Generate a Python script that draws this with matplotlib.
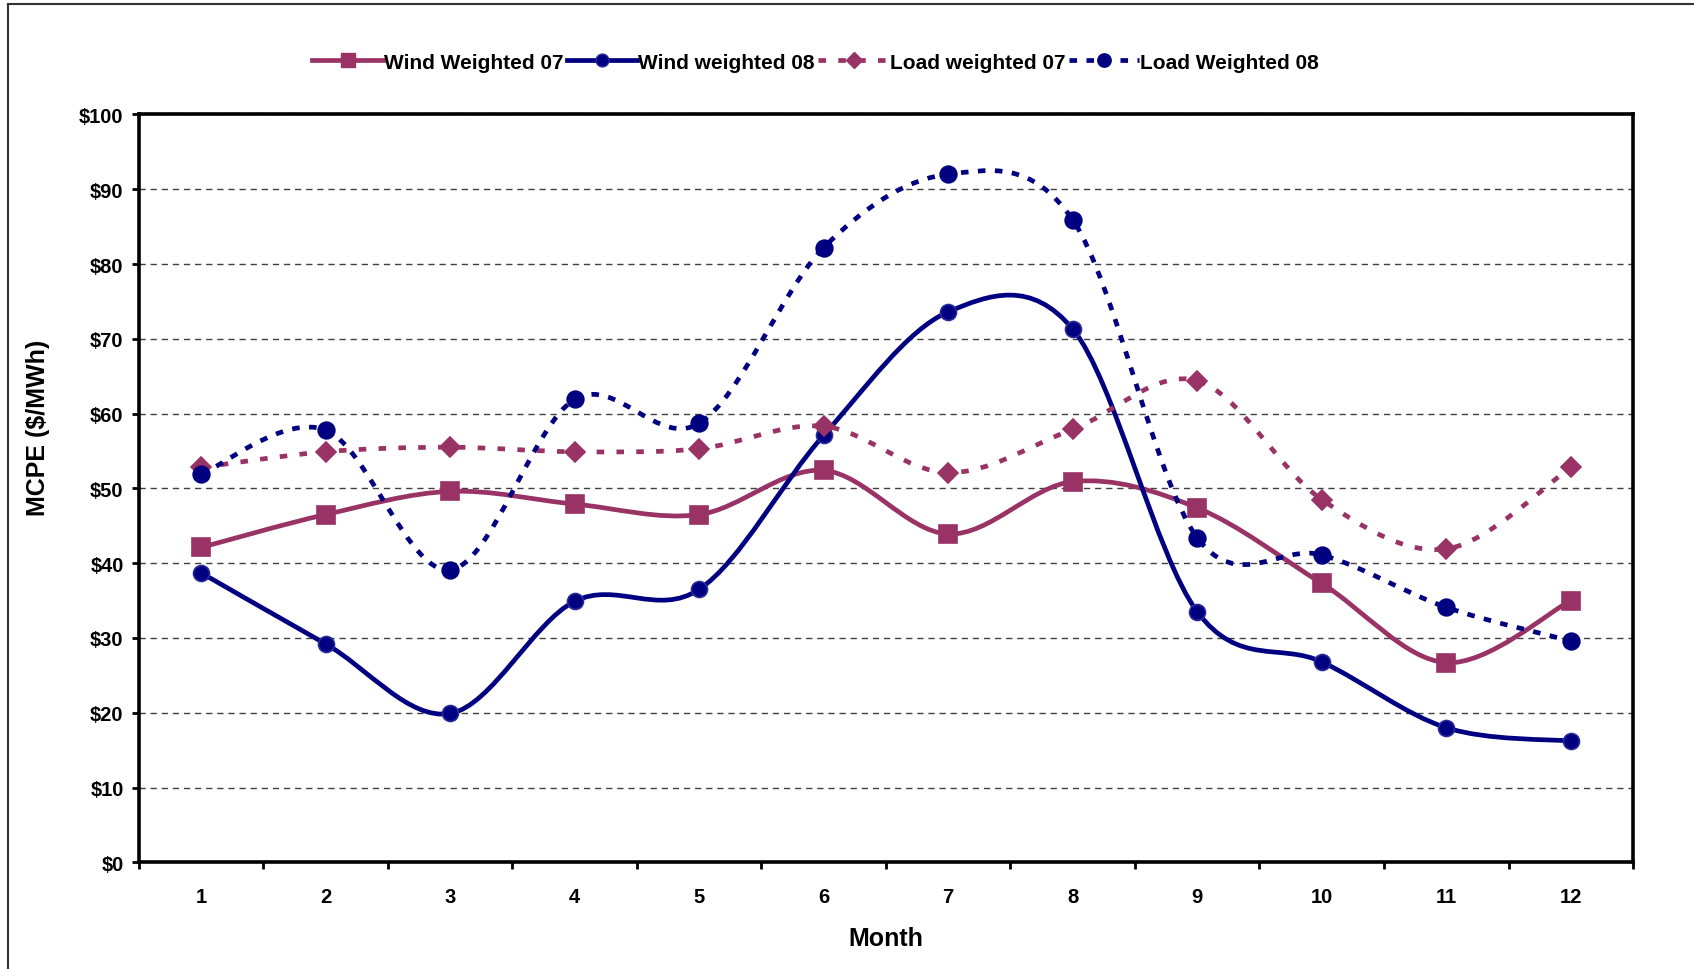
import matplotlib
matplotlib.use("Agg")
import matplotlib.pyplot as plt
import numpy as np
from matplotlib.path import Path
from matplotlib.patches import PathPatch
from matplotlib.lines import Line2D

months = [1, 2, 3, 4, 5, 6, 7, 8, 9, 10, 11, 12]
month_labels = ["1", "2", "3", "4", "5", "6", "7", "8", "9", "10", "11", "12"]
wind_weighted_07 = [42.1, 46.5, 49.6, 47.9, 46.5, 52.4, 43.9, 50.9, 47.4, 37.3, 26.7, 35.0]
wind_weighted_08 = [38.7, 29.2, 19.9, 34.9, 36.5, 57.1, 73.6, 71.3, 33.5, 26.8, 18.0, 16.2]
load_weighted_07 = [52.8, 54.9, 55.5, 54.9, 55.3, 58.3, 52.1, 57.9, 64.4, 48.5, 41.9, 52.8]
load_weighted_08 = [51.9, 57.8, 39.1, 61.9, 58.7, 82.2, 92.0, 85.9, 43.4, 41.1, 34.1, 29.6]
y_ticks = [0, 10, 20, 30, 40, 50, 60, 70, 80, 90, 100]
y_tick_labels = ["$" + str(v) for v in y_ticks]

PLUM = "#993366"
NAVY = "#000080"
FONT = "Liberation Sans"

plt.rcParams["font.family"] = [FONT, "DejaVu Sans"]
plt.rcParams["font.weight"] = "bold"

fig = plt.figure(figsize=(16.94, 9.70), dpi=100)
ax = fig.add_axes([0.082, 0.110, 0.882, 0.771])


def smooth_path(xs, ys):
    pts = np.column_stack([xs, ys]).astype(float)
    n = len(pts)
    verts = [pts[0]]
    codes = [Path.MOVETO]
    for i in range(n - 1):
        p0 = pts[i - 1] if i > 0 else pts[i]
        p1 = pts[i]
        p2 = pts[i + 1]
        p3 = pts[i + 2] if i + 2 < n else pts[i + 1]
        c1 = p1 + (p2 - p0) / 6.0
        c2 = p2 - (p3 - p1) / 6.0
        verts += [c1, c2, p2]
        codes += [Path.CURVE4] * 3
    return Path(verts, codes)


series = [
    ("Wind Weighted 07", wind_weighted_07, PLUM, "s", 13, "-", None, PLUM),
    ("Wind weighted 08", wind_weighted_08, NAVY, "o", 11.5, "-", None, "#2a2a9a"),
    ("Load weighted 07", load_weighted_07, PLUM, "D", 10, "--", (1.6, 2.6), PLUM),
    ("Load Weighted 08", load_weighted_08, NAVY, "o", 12, "--", (1.6, 2.0), NAVY),
]

handles = []
for name, vals, color, marker, ms, ls, dashes, mec in series:
    patch = PathPatch(smooth_path(months, vals), facecolor="none", edgecolor=color,
                      linewidth=3.4, capstyle="butt", zorder=3)
    if dashes is not None:
        patch.set_linestyle((0, dashes))
    ax.add_patch(patch)
    ax.plot(months, vals, linestyle="none", marker=marker, markersize=ms,
            markerfacecolor=color, markeredgecolor=mec, markeredgewidth=1.2, zorder=4)
    h = Line2D([], [], color=color, linewidth=3.4, marker=marker,
               markersize=ms * 0.8, markerfacecolor=color, markeredgecolor=mec)
    if dashes is not None:
        h.set_dashes(dashes)
    handles.append(h)

ax.set_xlim(0.5, 12.5)
ax.set_ylim(0, 100)

ax.set_yticks(y_ticks)
ax.set_yticklabels(y_tick_labels, fontsize=14.5, fontweight="bold")
ax.yaxis.grid(True, linestyle=(0, (4.5, 3.5)), color="#404040", linewidth=1.0)
ax.set_axisbelow(True)

ax.set_xticks(np.arange(0.5, 13.0, 1.0))
ax.set_xticklabels([])
ax.set_xticks(months, minor=True)
ax.set_xticklabels(month_labels, minor=True, fontsize=14.5, fontweight="bold")
ax.tick_params(axis="x", which="major", direction="out", length=5, width=2)
ax.tick_params(axis="x", which="minor", length=0, pad=18)
ax.tick_params(axis="y", which="major", direction="out", length=5, width=2, pad=6)

for sp in ax.spines.values():
    sp.set_linewidth(2.6)
    sp.set_color("black")

ax.set_xlabel("Month", fontsize=18, fontweight="bold", labelpad=14)
fig.text(0.0225, 0.559, "MCPE ($/MWh)", rotation=90, fontsize=18, fontweight="bold",
         ha="center", va="center")

fig.legend(handles=handles, labels=[s[0] for s in series], loc="center",
           bbox_to_anchor=(0.4815, 0.935), ncol=4, frameon=False,
           prop={"family": FONT, "weight": "bold", "size": 15},
           handlelength=3.4, handletextpad=0.05, columnspacing=0.15, borderpad=0)

# outer chart border (left and top edges visible)
fig.add_artist(Line2D([8 / 1694, 8 / 1694], [0, 1 - 5 / 970], transform=fig.transFigure,
                      color="#333333", linewidth=1.5))
fig.add_artist(Line2D([8 / 1694, 1], [1 - 5 / 970, 1 - 5 / 970], transform=fig.transFigure,
                      color="#333333", linewidth=1.5))

fig.savefig("out.png", dpi=100, facecolor="white")
